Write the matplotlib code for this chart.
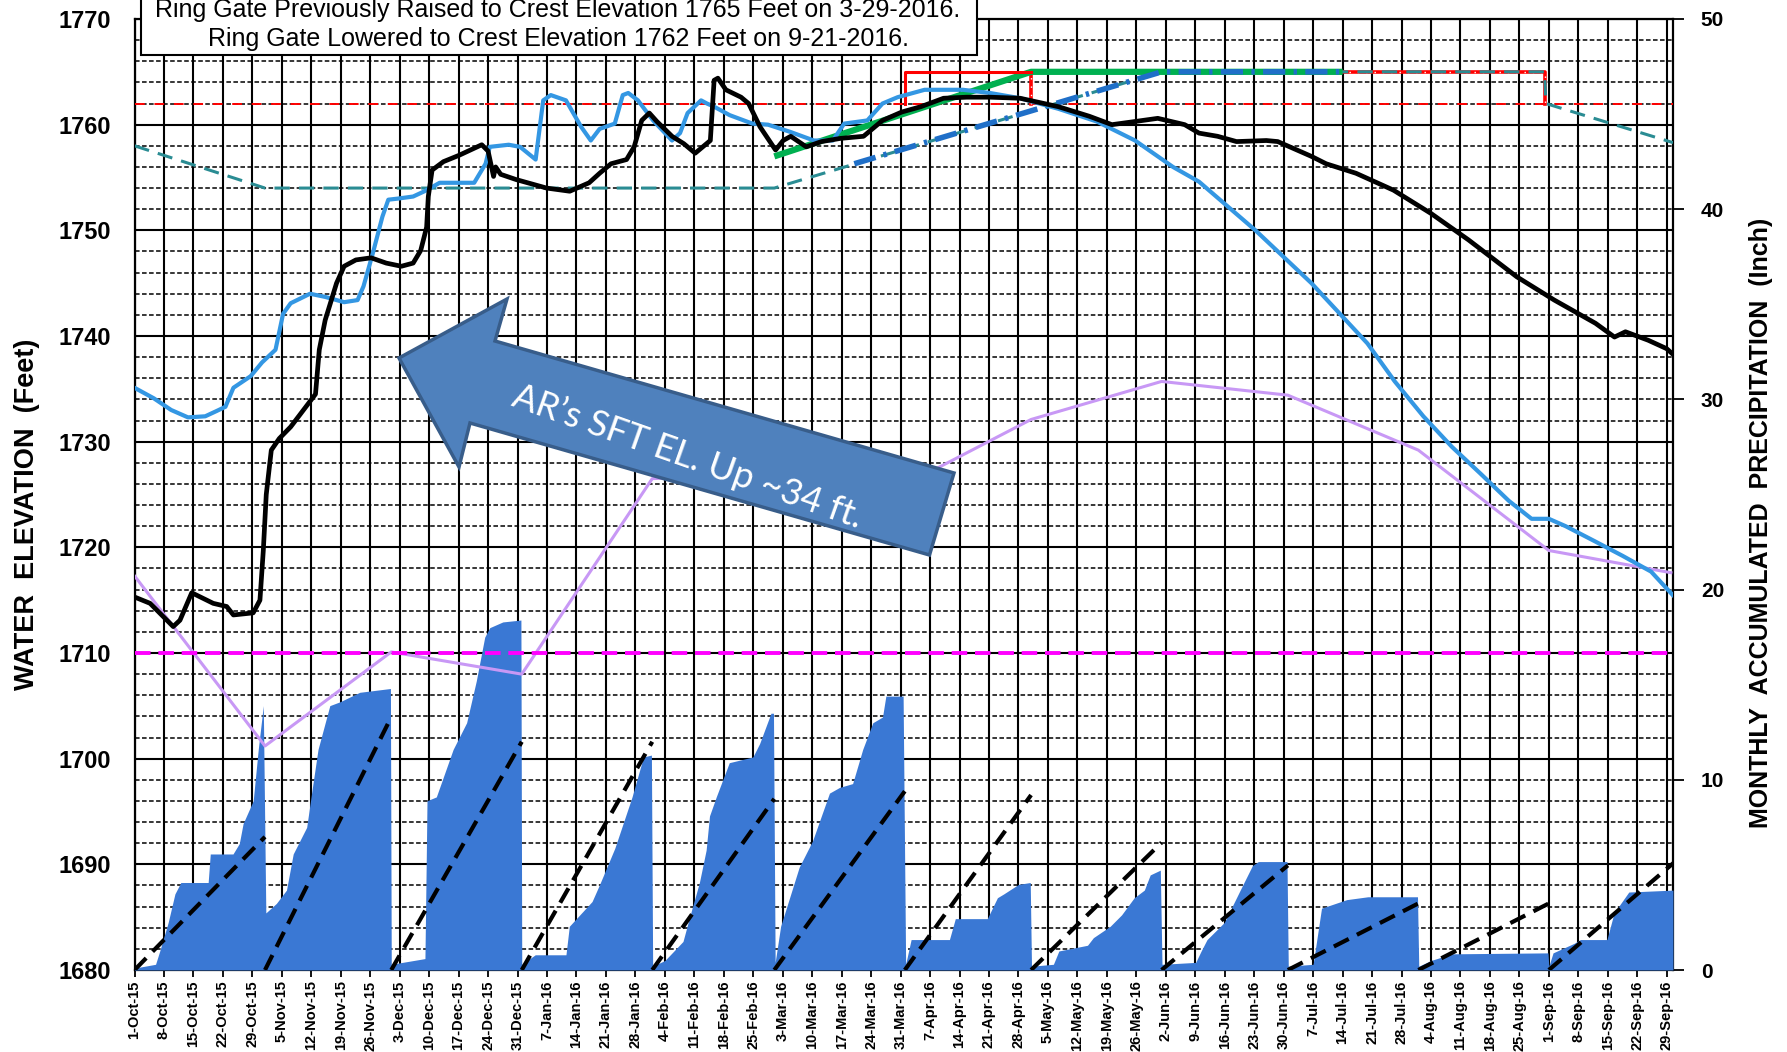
import datetime as dt
import matplotlib
matplotlib.use("Agg")
import matplotlib.pyplot as plt
from matplotlib.patches import Polygon, Rectangle
from matplotlib.ticker import MultipleLocator, FixedLocator

plt.rcParams['font.family'] = ['Liberation Sans', 'DejaVu Sans']

# ---------------- data (x = days since 1-Oct-2015) ----------------
tick_days = list(range(0, 365, 7))
_start = dt.date(2015, 10, 1)
tick_labels = [f"{(_start + dt.timedelta(days=d)).day}-{(_start + dt.timedelta(days=d)):%b-%y}"
               for d in tick_days]

# current water year elevation (black)
elev_days = [0, 3.7, 9.2, 10.8, 13.6, 18.7, 21.9, 23.5, 28.2, 29.8, 30.6, 31.3, 32.5, 34.4, 37.1,
             41.1, 43.0, 43.9, 45.3, 48.0, 49.8, 52.6, 56.2, 59.8, 63.4, 66.2, 68.0, 69.4, 69.8,
             70.7, 73.4, 77.1, 82.5, 84.0, 85.3, 85.8, 87.0, 90.7, 97.9, 103.4, 108.0, 110.5,
             113.2, 116.9, 118.7, 120.5, 122.3, 124.1, 127.7, 130.5, 133.2, 135.0, 136.8, 137.7,
             138.6, 140.5, 144.1, 145.9, 148.6, 152.3, 154.1, 155.9, 159.6, 163.2, 167.7, 173.2,
             175.0, 177.7, 182.3, 186.8, 192.2, 197.7, 203.2, 210.4, 219.5, 226.8, 232.2, 237.7,
             243.1, 249.5, 252.9, 257.3, 261.8, 268.9, 271.6, 279.6, 283.1, 290.2, 299.1, 308.0,
             316.9, 328.4, 337.3, 347.1, 351.6, 354.2, 359.6, 364.0, 365.4]
elev_ft = [1715.3, 1714.7, 1712.5, 1713.1, 1715.7, 1714.7, 1714.4, 1713.6, 1713.8, 1715.0, 1719.7,
           1725.0, 1729.2, 1730.3, 1731.4, 1733.5, 1734.5, 1738.7, 1741.5, 1745.0, 1746.6, 1747.2,
           1747.4, 1746.9, 1746.6, 1746.9, 1748.1, 1750.3, 1753.2, 1755.7, 1756.5, 1757.1, 1758.1,
           1757.5, 1755.1, 1756.0, 1755.3, 1754.8, 1754.0, 1753.7, 1754.5, 1755.4, 1756.3, 1756.7,
           1757.9, 1760.4, 1761.1, 1760.3, 1758.9, 1758.2, 1757.3, 1757.9, 1758.5, 1764.2, 1764.4,
           1763.3, 1762.6, 1762.0, 1759.8, 1757.6, 1758.5, 1758.9, 1757.9, 1758.4, 1758.7, 1758.9,
           1759.5, 1760.4, 1761.2, 1761.7, 1762.5, 1762.6, 1762.6, 1762.5, 1761.7, 1760.8, 1760.0,
           1760.3, 1760.6, 1760.0, 1759.2, 1758.9, 1758.4, 1758.5, 1758.4, 1757.0, 1756.3, 1755.4,
           1753.8, 1751.6, 1749.1, 1745.6, 1743.4, 1741.2, 1739.9, 1740.4, 1739.6, 1738.8, 1738.3]

# comparison elevation (light blue)
prev_days = [0, 4.6, 8.7, 12.7, 16.8, 19.5, 21.6, 23.5, 27.6, 30.3, 33.5, 35.3, 37.1, 41.7, 45.3,
             49.8, 53.0, 54.4, 56.6, 58.9, 60.3, 62.5, 66.2, 68.9, 72.5, 80.7, 83.4, 84.4, 88.9,
             91.6, 95.3, 97.1, 98.9, 102.5, 106.1, 108.4, 110.5, 114.1, 116.0, 117.3, 119.6, 123.2,
             127.7, 129.6, 131.4, 134.6, 136.0, 137.7, 141.4, 146.8, 150.5, 155.9, 161.4, 165.9,
             168.6, 174.1, 177.7, 181.3, 187.7, 196.8, 203.2, 210.4, 219.5, 228.6, 237.7, 246.7,
             252.9, 266.3, 279.6, 292.9, 299.4, 306.2, 313.0, 319.7, 326.5, 331.9, 336.0, 340.0,
             346.8, 353.5, 360.3, 365.4]
prev_ft = [1735.1, 1734.1, 1733.0, 1732.3, 1732.4, 1732.9, 1733.3, 1735.1, 1736.2, 1737.5, 1738.7,
           1742.1, 1743.1, 1744.0, 1743.7, 1743.2, 1743.4, 1744.7, 1747.8, 1751.3, 1752.9, 1753.0,
           1753.2, 1753.7, 1754.5, 1754.5, 1756.3, 1757.9, 1758.1, 1757.9, 1756.7, 1762.3, 1762.8,
           1762.3, 1759.8, 1758.5, 1759.6, 1760.1, 1762.8, 1763.0, 1762.3, 1760.4, 1758.5, 1759.2,
           1761.1, 1762.3, 1762.0, 1761.7, 1760.9, 1760.1, 1760.0, 1759.3, 1758.5, 1758.5, 1760.1,
           1760.4, 1762.0, 1762.6, 1763.3, 1763.3, 1763.0, 1762.5, 1761.5, 1760.3, 1758.5, 1756.0,
           1754.6, 1750.0, 1745.0, 1739.3, 1735.7, 1732.4, 1729.5, 1727.0, 1724.4, 1722.7, 1722.7,
           1722.0, 1720.6, 1719.2, 1717.7, 1715.5]

# purple monthly line
purple_days = [0, 31, 61, 92, 123, 152, 183, 213, 244, 274, 305, 336, 365]
purple_ft = [1717.3, 1701.2, 1710.1, 1708.0, 1726.5, 1727.0, 1725.9, 1732.1, 1735.7, 1734.4,
             1729.2, 1719.7, 1717.6]

# flood-control / rule curve (teal dashed)
rule_days = [0, 31, 152, 244, 335, 335.3, 365.5]
rule_ft = [1758.0, 1754.0, 1754.0, 1765.0, 1765.0, 1762.0, 1758.3]

# green and blue dash-dot lines
green_days = [152, 213, 287]
green_ft = [1757.0, 1765.0, 1765.0]
target_days = [171, 244, 287]
target_ft = [1756.3, 1765.0, 1765.0]

# ring gate crest lines (red)
gate_solid_days = [183, 183, 213]
gate_solid_ft = [1762, 1765, 1765]
gate_dot_days = [213, 213, 335, 335]
gate_dot_ft = [1762, 1765, 1765, 1762]
old_crest_ft = 1762
min_pool_ft = 1710

# monthly accumulated precipitation (inches)
precip_day = [0, 5, 6, 8, 9.6, 11, 17.5, 18, 23.4, 24.9, 25.8, 28.2, 29.4, 30.6,
              31.2, 33.7, 36.1, 37.7, 40.9, 42.4, 43.6, 46.4, 48.8, 53.5, 60.8,
              61.0, 69.0, 69.5, 71.7, 75.7, 78.9, 81.2, 83.2, 84.4, 87.5, 91.8,
              92.0, 95.2, 102.5, 103.3, 108.7, 110.5, 114.1, 118.2, 120.9, 122.8,
              123.1, 126, 130.3, 131.9, 134.2, 135.8, 136.6, 138.2, 141.3, 146.9, 148.5, 151.2, 151.8,
              152.2, 153.5, 157.9, 161.1, 165.1, 167.5, 170.6, 173.0, 175.4, 177.7, 178.5, 182.6,
              183.2, 184.5, 193.6, 195.0, 202.6, 205.0, 206.5, 210.0, 212.8,
              213.1, 218.3, 219.6, 226.4, 227.8, 231.8, 234.5, 237.5, 239.9, 241.3, 243.7,
              244.1, 252.1, 253.4, 254.8, 258.9, 262.9, 265.6, 267.0, 273.8,
              274.1, 280.0, 282.0, 288.0, 293.0, 304.8,
              305.1, 308.0, 313.0, 335.8,
              336.0, 337.0, 342.0, 343.5, 349.8, 351.5, 355.0, 365.5]
precip_in = [0.1, 0.3, 1.0, 2.5, 4.0, 4.6, 4.6, 6.1, 6.1, 6.65, 7.7, 8.9, 11.6, 13.9,
             3.0, 3.5, 4.2, 6.1, 7.5, 9.8, 11.6, 13.9, 14.1, 14.6, 14.8,
             0.3, 0.6, 8.9, 9.1, 11.6, 13.0, 15.2, 17.5, 18.0, 18.3, 18.4,
             0.3, 0.8, 0.8, 2.3, 3.6, 4.5, 6.4, 9.1, 11.2, 11.3,
             0.2, 0.5, 1.5, 2.8, 4.6, 6.3, 8.1, 9.1, 10.9, 11.2, 11.9, 13.5, 13.5,
             0.4, 2.3, 5.4, 6.8, 9.3, 9.6, 9.8, 11.6, 13.0, 13.3, 14.4, 14.4,
             0.3, 1.6, 1.6, 2.7, 2.7, 3.8, 4.0, 4.5, 4.6,
             0.2, 0.3, 1.0, 1.3, 1.7, 2.3, 2.9, 3.8, 4.2, 5.0, 5.25,
             0.3, 0.4, 1.0, 1.6, 2.5, 4.3, 5.5, 5.7, 5.7,
             0.2, 0.3, 3.25, 3.7, 3.85, 3.85,
             0.2, 0.5, 0.85, 0.9,
             0.2, 0.9, 1.4, 1.6, 1.6, 3.0, 4.1, 4.2]

# normal monthly accumulated precipitation (black dashed, restarts each month)
month_start = [0, 31, 61, 92, 123, 152, 183, 213, 244, 274, 305, 336]
month_end = [31, 61, 92, 123, 152, 183, 213, 244, 274, 305, 336, 366]
normal_in = [7.0, 13.3, 12.0, 12.0, 9.0, 9.4, 9.2, 6.7, 5.5, 3.5, 3.5, 5.7]

# ---------------- figure ----------------
W, H, DPI = 1787, 1052, 100
fig = plt.figure(figsize=(W / DPI, H / DPI), dpi=DPI)
L, R, T, B = 134.5, 1673.0, 19.0, 970.0
rect = [L / W, 1 - B / H, (R - L) / W, (B - T) / H]

axG = fig.add_axes(rect)           # grid + left elevation axis
axP = axG.twinx()                  # precipitation (right axis)
axL = axG.twinx()                  # elevation lines on top

XMAX = 365.5
for a in (axG, axP, axL):
    a.set_xlim(0, XMAX)
axG.set_ylim(1680, 1770)
axL.set_ylim(1680, 1770)
axP.set_ylim(0, 50)

# grid
axG.xaxis.set_major_locator(FixedLocator(tick_days))
axG.set_xticklabels(tick_labels, rotation=90, fontsize=10.5, fontweight='bold')
axG.yaxis.set_major_locator(MultipleLocator(10))
axG.yaxis.set_minor_locator(MultipleLocator(2))
axG.grid(which='major', axis='both', color='black', lw=1.5, zorder=0)
axG.grid(which='minor', axis='y', color='black', lw=1.1, ls=(0, (3, 1.6)))
axG.set_axisbelow(True)
axG.tick_params(axis='x', direction='out', length=5, width=1.3, pad=2.5)
axG.tick_params(axis='y', which='both', length=0, pad=17, labelsize=17)
for lab in axG.get_yticklabels():
    lab.set_fontweight('bold')
for s in axG.spines.values():
    s.set_linewidth(1.6)

# precipitation
axP.fill_between(precip_day, 0, precip_in, color='#3A78D4', lw=0, zorder=2)
for s0, s1, n in zip(month_start, month_end, normal_in):
    axP.plot([s0, s1], [0, n], color='black', lw=3.0, ls=(0, (4, 2.2)),
             solid_capstyle='butt', zorder=3)
axP.yaxis.set_major_locator(MultipleLocator(10))
axP.tick_params(axis='y', direction='out', length=8, width=1.3, pad=12, labelsize=15)
for lab in axP.get_yticklabels():
    lab.set_fontweight('bold')
for s in axP.spines.values():
    s.set_visible(False)

# elevation lines
axL.tick_params(axis='y', right=False, labelright=False)
for s in axL.spines.values():
    s.set_visible(False)
axL.plot(purple_days, purple_ft, color='#C898F5', lw=2.2, zorder=2)
axL.axhline(min_pool_ft, color='#FF00FF', lw=2.8, ls=(0, (4, 2)), zorder=2)
axL.axhline(old_crest_ft, color='#FF0000', lw=1.4, ls=(0, (5, 5)), zorder=2)
axL.plot(gate_dot_days, gate_dot_ft, color='#FF0000', lw=2.6, zorder=3)
axL.plot(gate_dot_days, gate_dot_ft, color='white', lw=1.0, ls=(0, (1, 5)), zorder=3.1)
axL.plot(rule_days, rule_ft, color='#2A8C93', lw=2.2, ls=(0, (5, 3)), zorder=3.5)
axL.plot(green_days, green_ft, color='#00B050', lw=4.5, zorder=4, solid_capstyle='butt')
axL.plot(target_days, target_ft, color='#1F6FC8', lw=4.0, ls=(0, (4, 1.5, 0.6, 1.5)), zorder=5)
axL.plot(gate_solid_days, gate_solid_ft, color='#FF0000', lw=2.2, zorder=6)
axL.plot(prev_days, prev_ft, color='#3497E3', lw=3.0, zorder=7)
axL.plot(elev_days, elev_ft, color='black', lw=3.4, zorder=8)

# axis titles
fig.text(27 / W, 1 - 514 / H, 'WATER  ELEVATION  (Feet)', rotation=90, ha='center', va='center',
         fontsize=19.5, fontweight='bold')
fig.text(1761 / W, 1 - 523 / H, 'MONTHLY  ACCUMULATED  PRECIPITATION  (Inch)', rotation=90,
         ha='center', va='center', fontsize=18, fontweight='bold')

# header box
fig.add_artist(Rectangle((141 / W, 1 - 55 / H), 836 / W, 80 / H, transform=fig.transFigure,
                         facecolor='white', edgecolor='black', lw=1.5, zorder=20))
fig.text(558 / W, 1 - 17 / H,
         'Ring Gate Previously Raised to Crest Elevation 1765 Feet on 3-29-2016.',
         ha='center', va='baseline', fontsize=18, zorder=21)
fig.text(558 / W, 1 - 45.6 / H,
         'Ring Gate Lowered to Crest Elevation 1762 Feet on 9-21-2016.',
         ha='center', va='baseline', fontsize=18, zorder=21)

# block arrow annotation
arrow_px = [(399, 358), (507, 299), (495, 341), (954, 473), (929.5, 555), (470, 423), (459, 467)]
fig.add_artist(Polygon([(x / W, 1 - y / H) for x, y in arrow_px], closed=True,
                       transform=fig.transFigure, facecolor='#4F81BD', edgecolor='#385D8A',
                       lw=2.5, zorder=15))
fig.text(688 / W, 1 - 456 / H, 'AR\u2019s SFT EL. Up ~34 ft.', rotation=-19.5, rotation_mode='anchor',
         ha='center', va='center', fontsize=26, color='white', family=['Lato', 'DejaVu Sans'],
         zorder=16)

fig.savefig('out.png', dpi=DPI)
